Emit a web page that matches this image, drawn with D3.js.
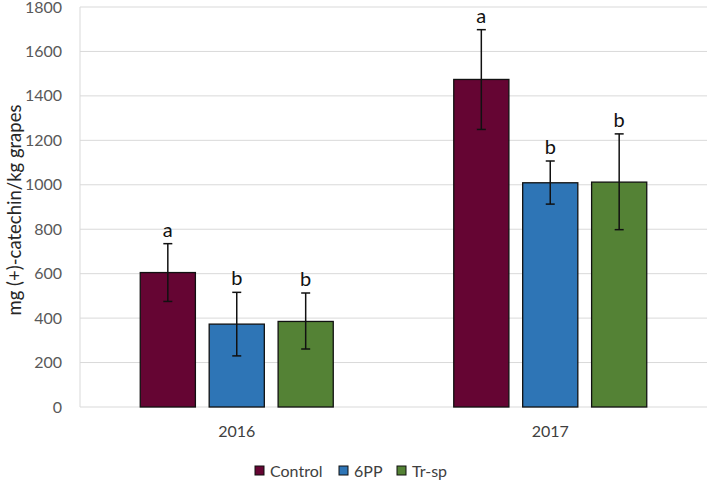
<!DOCTYPE html>
<html>
<head>
<meta charset="utf-8">
<script src="https://cdn.jsdelivr.net/npm/d3@7"></script>
<style>
  body { margin: 0; background: #fff; }
  text { font-family: Lato, "Open Sans", sans-serif; }
</style>
</head>
<body>
<div id="chart"></div>
<script>
(function() {
  var years = ["2016", "2017"];
  var series = ["Control", "6PP", "Tr-sp"];
  var colors = ["#650533", "#2e75b6", "#548235"];
  // mean values per year, in series order
  var means = [[605, 373, 385], [1474, 1009, 1012]];
  var errLow = [[475, 230, 261], [1249, 913, 798]];
  var errHigh = [[735, 516, 513], [1698, 1107, 1229]];
  var letters = [["a", "b", "b"], ["a", "b", "b"]];
  var yTicks = [0, 200, 400, 600, 800, 1000, 1200, 1400, 1600, 1800];

  var width = 709, height = 480;
  var left = 80, right = 707, top = 7, bottom = 407;

  var svg = d3.select("#chart")
    .append("svg")
    .attr("width", width)
    .attr("height", height);

  var y = d3.scaleLinear().domain([0, 1800]).range([bottom, top]);
  var x0 = d3.scaleBand().domain(years).range([left, right]);
  var x1 = d3.scaleBand().domain(series).range([-96.5, 96.5]).paddingInner(0.2);

  // gridlines
  svg.append("g")
    .selectAll("line")
    .data(yTicks)
    .join("line")
    .attr("x1", left)
    .attr("x2", right)
    .attr("y1", d => y(d))
    .attr("y2", d => y(d))
    .attr("stroke", "#d9d9d9")
    .attr("stroke-width", 1);

  svg.append("line")
    .attr("x1", left).attr("x2", left)
    .attr("y1", top).attr("y2", bottom)
    .attr("stroke", "#d9d9d9");

  // y tick labels
  svg.append("g")
    .selectAll("text")
    .data(yTicks)
    .join("text")
    .attr("x", 62)
    .attr("y", d => y(d))
    .attr("dy", "0.35em")
    .attr("text-anchor", "end")
    .attr("font-size", 16)
    .attr("fill", "#595959")
    .text(d => d);

  svg.append("text")
    .attr("transform", `translate(${15}, ${210}) rotate(-90)`)
    .attr("text-anchor", "middle")
    .attr("dy", "0.35em")
    .attr("font-size", 18.5)
    .attr("fill", "#262626")
    .text("mg (+)-catechin/kg grapes");

  // bars
  var groups = svg.append("g")
    .selectAll("g")
    .data(years)
    .join("g")
    .attr("transform", d => `translate(${x0(d) + x0.bandwidth() / 2}, 0)`);

  groups.each(function(yr, i) {
    var g = d3.select(this);
    series.forEach(function(s, j) {
      var cx = x1(s) + x1.bandwidth() / 2;
      g.append("rect")
        .attr("x", x1(s))
        .attr("y", y(means[i][j]))
        .attr("width", x1.bandwidth())
        .attr("height", y(0) - y(means[i][j]))
        .attr("fill", colors[j])
        .attr("stroke", "#111")
        .attr("stroke-width", 1.3);
      // error bar
      g.append("line")
        .attr("x1", cx).attr("x2", cx)
        .attr("y1", y(errLow[i][j])).attr("y2", y(errHigh[i][j]))
        .attr("stroke", "#111").attr("stroke-width", 1.5);
      [errLow[i][j], errHigh[i][j]].forEach(function(v) {
        g.append("line")
          .attr("x1", cx - 4.5).attr("x2", cx + 4.5)
          .attr("y1", y(v)).attr("y2", y(v))
          .attr("stroke", "#111").attr("stroke-width", 1.5);
      });
      g.append("text")
        .attr("x", cx)
        .attr("y", y(errHigh[i][j]) - 7)
        .attr("text-anchor", "middle")
        .attr("font-size", 20)
        .attr("fill", "#111")
        .text(letters[i][j]);
    });
  });

  // year labels
  svg.append("g")
    .selectAll("text")
    .data(years)
    .join("text")
    .attr("x", d => x0(d) + x0.bandwidth() / 2)
    .attr("y", 431)
    .attr("dy", "0.35em")
    .attr("text-anchor", "middle")
    .attr("font-size", 16)
    .attr("fill", "#404040")
    .text(d => d);

  // legend
  var legendX = [255, 339, 397];
  var legend = svg.append("g")
    .selectAll("g")
    .data(series)
    .join("g")
    .attr("transform", (d, i) => `translate(${legendX[i]}, 466)`);

  legend.append("rect")
    .attr("width", 9)
    .attr("height", 9)
    .attr("fill", (d, i) => colors[i])
    .attr("stroke", "#111")
    .attr("stroke-width", 1);

  legend.append("text")
    .attr("x", 15)
    .attr("y", 5)
    .attr("dy", "0.35em")
    .attr("font-size", 16)
    .attr("fill", "#404040")
    .text(d => d);
})();
</script>
</body>
</html>
